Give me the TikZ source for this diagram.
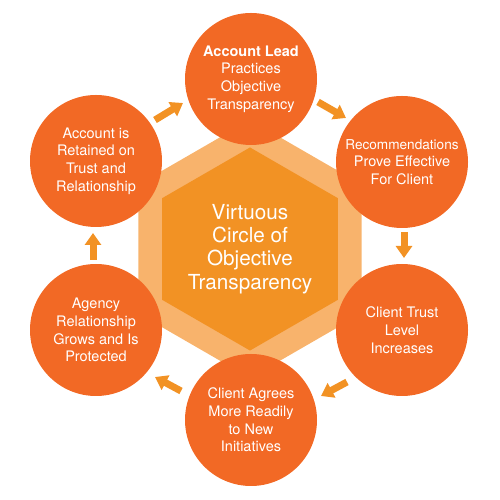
\documentclass[tikz,border=0pt]{standalone}
\usepackage{fontspec}
\setmainfont{TeX Gyre Heros}
\usetikzlibrary{shapes.geometric,arrows.meta}
\definecolor{circleorange}{HTML}{F26925}
\definecolor{hexorange}{HTML}{F29224}
\definecolor{hexlight}{HTML}{F8B36C}

\begin{document}
\begin{tikzpicture}[x=1pt,y=1pt,
                    main node/.style={circle,fill=circleorange,text=white,minimum size=132pt,inner sep=0pt,
                                      align=center,font=\fontsize{14.5}{17.7}\selectfont},
                    hex node/.style={regular polygon,regular polygon sides=6,regular polygon rotate=30,
                                     inner sep=0pt,outer sep=0pt},
                    flow/.style={draw=hexorange,line width=7pt,-{Triangle[width=16pt,length=12pt]}}]
  \useasboundingbox (0,0) rectangle (500,500);

  % central hexagons
  \node[hex node,fill=hexlight,minimum size=258pt] (outer) at (250,251) {};
  \node[hex node,fill=hexorange,minimum size=184pt,text=white,align=center,
        font=\fontsize{20.7}{23.3}\selectfont] (core) at (250,251)
        {Virtuous\\Circle of\\Objective\\Transparency};

  % the six steps
  \node[main node] (lead) at (251,421) {{\bfseries Account Lead}\\Practices\\Objective\\Transparency};
  \node[main node] (reco) at (402,338) {{\fontsize{13.6}{17.7}\selectfont Recommendations}\\Prove Effective\\For Client};
  \node[main node] (trust) at (402,170) {Client Trust\\Level\\Increases};
  \node[main node] (agree) at (251,80) {Client Agrees\\More Readily\\to New\\Initiatives};
  \node[main node] (grow) at (96,170) {Agency\\Relationship\\Grows and Is\\Protected};
  \node[main node] (retain) at (96,339) {Account is\\Retained on\\Trust and\\Relationship};

  % arrow ends
  \coordinate (s1) at (155,380); \coordinate (e1) at (183,397);
  \coordinate (s2) at (318,398); \coordinate (e2) at (346,382);
  \coordinate (s3) at (404,268); \coordinate (e3) at (404,242);
  \coordinate (s4) at (347,118); \coordinate (e4) at (321,104);
  \coordinate (s5) at (181,109); \coordinate (e5) at (155,123);
  \coordinate (s6) at (93,240);  \coordinate (e6) at (93,267);

  \draw[flow] (s1) -- (e1);
  \draw[flow] (s2) -- (e2);
  \draw[flow] (s3) -- (e3);
  \draw[flow] (s4) -- (e4);
  \draw[flow] (s5) -- (e5);
  \draw[flow] (s6) -- (e6);
\end{tikzpicture}
\end{document}
